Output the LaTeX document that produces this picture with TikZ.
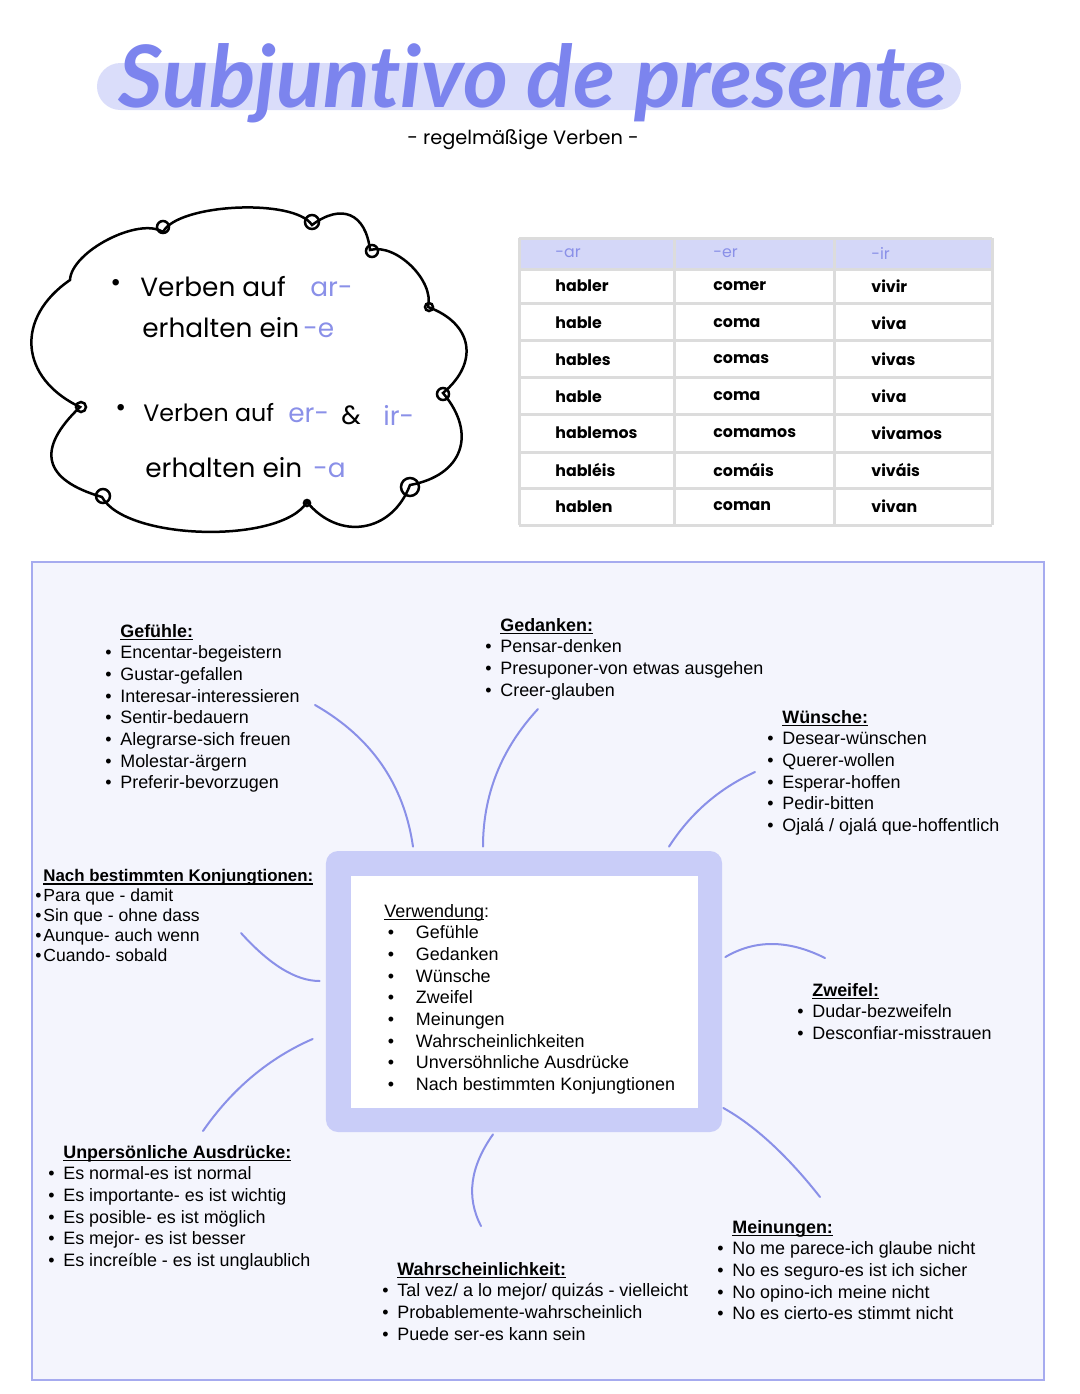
\documentclass[tikz,border=0pt]{standalone}
\usepackage{fontspec}
\setmainfont{Liberation Sans}
\newfontfamily\handschrift{Poppins}
\newfontfamily\titelschrift{Lato}[Ligatures=NoCommon]
\usetikzlibrary{calc}

\definecolor{lila}{HTML}{8A90E8}
\definecolor{lilabox}{HTML}{C9CDF8}
\definecolor{titelblau}{HTML}{7C84EE}
\definecolor{balkenfarbe}{HTML}{DADDFA}
\definecolor{feldfarbe}{HTML}{F4F5FD}
\definecolor{feldrand}{HTML}{A6ABEF}
\definecolor{kopffarbe}{HTML}{D4D7F8}
\definecolor{tabgrau}{HTML}{DCDCDC}

\tikzset{
  gruppe/.style={anchor=north west, inner sep=0pt, align=left, font=\fontsize{10.2}{12.3}\selectfont},
  ast/.style={draw=lila, line width=0.4mm, line cap=round},
  wolke/.style={draw=black, line width=0.5mm, line cap=round},
  hand/.style={anchor=west, inner sep=0pt, font=\handschrift\fontsize{15}{15}\selectfont},
  zelle/.style={anchor=west, inner sep=0pt, font=\handschrift\bfseries\fontsize{9}{9}\selectfont},
  gitter/.style={draw=tabgrau, line width=0.6mm},
}
\newsavebox{\unterbox}
\newcommand{\unter}[1]{\sbox{\unterbox}{#1}\rlap{\rule[-1.7pt]{\wd\unterbox}{0.7pt}}\usebox{\unterbox}}
\newcommand{\kopf}[1]{\textbf{\unter{#1}}}
\newcommand{\pkt}{\llap{\textbullet\hspace{5pt}}}

\begin{document}
\begin{tikzpicture}[x=0.2mm, y=-0.2mm]
\useasboundingbox (0,0) rectangle (1080,1394);

% title
\node[fill=balkenfarbe, rounded corners=4.7mm, minimum width=172.8mm, minimum height=9.4mm] (balken) at (529,86.5) {};
\node[text=titelblau, inner sep=0pt, font=\titelschrift\bfseries\itshape\fontsize{49}{49}\selectfont] (titel) at (533,83) {Subjuntivo de presente};
\node[inner sep=0pt, font=\handschrift\fontsize{11}{11}\selectfont] (untertitel) at (523,140) {- regelmäßige Verben -};

% cloud
\draw[wolke] (163,232) to[bend left=60, looseness=0.55] (312,225)
  to[bend left=60, looseness=1.5] (370,250)
  to[bend left=60, looseness=0.85] (428,307)
  to[bend left=60, looseness=1.4] (443,393)
  to[bend left=60, looseness=1.4] (410,485)
  to[bend left=60, looseness=1.25] (307,502)
  to[bend left=60, looseness=0.62] (102,497)
  to[bend left=60, looseness=1.7] (80,407)
  to[bend left=60, looseness=1.35] (70,280)
  to[bend left=60, looseness=0.7] (163,232);
\foreach \px/\py/\r in {163/227/6, 312/222/7, 372/251/6, 429/307/4, 443/394/6, 410/487/9, 307/503/3, 103/496/7, 81/407/5}
  \draw[wolke] (\px,\py) circle (\r);

\node[hand] (p1) at (110,285) {\textbullet};
\node[hand] (w1) at (140,287) {Verben auf};
\node[hand, text=lila] (w1a) at (310,289) {ar-};
\node[hand] (w2) at (142,328) {erhalten ein};
\node[hand, text=lila] (w2a) at (303,330) {-e};
\node[hand] (p2) at (115,410) {\textbullet};
\node[hand, font=\handschrift\fontsize{13.5}{13.5}\selectfont] (w3) at (143,413) {Verben auf};
\node[hand, text=lila] (w3a) at (288,415) {er-};
\node[hand] (w3b) at (341,415) {\&};
\node[hand, text=lila] (w3c) at (383,415) {ir-};
\node[hand] (w4) at (145,468) {erhalten ein};
\node[hand, text=lila] (w4a) at (313,470) {-a};

% table
\fill[kopffarbe] (519,238) rectangle (992,269);
\foreach \y in {238,269,303,340,377,414,452,488,525}
  \draw[gitter] (519,\y) -- (992,\y);
\foreach \x in {519,674,834,992}
  \draw[gitter] (\x,238) -- (\x,525);
\node[zelle, text=lila, font=\handschrift\fontsize{9}{9}\selectfont] (k1) at (555,253) {-ar};
\node[zelle, text=lila, font=\handschrift\fontsize{9}{9}\selectfont] (k2) at (713,253) {-er};
\node[zelle, text=lila, font=\handschrift\fontsize{9}{9}\selectfont] (k3) at (871,253) {-ir};
\foreach \a/\b/\c [count=\i] in {habler/comer/vivir, hable/coma/viva, hables/comas/vivas, hable/coma/viva, hablemos/comamos/vivamos, habléis/comáis/viváis, hablen/coman/vivan} {
  \pgfmathsetmacro{\zy}{249.25+36.75*\i}
  \node[zelle] (ar\i) at (555,\zy) {\a};
  \node[zelle] (er\i) at (713,\zy) {\b};
  \node[zelle] (ir\i) at (871,\zy) {\c};
}

% lower field
\node[draw=feldrand, fill=feldfarbe, line width=0.5mm, minimum width=202.4mm, minimum height=163.6mm] (feld) at (538,971) {};
\node[fill=lilabox, rounded corners=2.4mm, minimum width=79.2mm, minimum height=56.2mm] (mitte) at (524,991.5) {};
\node[fill=white, minimum width=69.4mm, minimum height=46.4mm] (innen) at (524.5,992) {};

\node[gruppe] (verwendung) at (384,904) {\unter{Verwendung}:\\
  \makebox[18pt][l]{\hspace{2pt}\textbullet}Gefühle\\
  \makebox[18pt][l]{\hspace{2pt}\textbullet}Gedanken\\
  \makebox[18pt][l]{\hspace{2pt}\textbullet}Wünsche\\
  \makebox[18pt][l]{\hspace{2pt}\textbullet}Zweifel\\
  \makebox[18pt][l]{\hspace{2pt}\textbullet}Meinungen\\
  \makebox[18pt][l]{\hspace{2pt}\textbullet}Wahrscheinlichkeiten\\
  \makebox[18pt][l]{\hspace{2pt}\textbullet}Unversöhnliche Ausdrücke\\
  \makebox[18pt][l]{\hspace{2pt}\textbullet}Nach bestimmten Konjungtionen};

\node[gruppe] (gefuehle) at (120,624) {\kopf{Gefühle:}\\ \pkt Encentar-begeistern\\ \pkt Gustar-gefallen\\
  \pkt Interesar-interessieren\\ \pkt Sentir-bedauern\\ \pkt Alegrarse-sich freuen\\ \pkt Molestar-ärgern\\ \pkt Preferir-bevorzugen};
\node[gruppe] (gedanken) at (500,618) {\kopf{Gedanken:}\\ \pkt Pensar-denken\\ \pkt Presuponer-von etwas ausgehen\\ \pkt Creer-glauben};
\node[gruppe] (wuensche) at (782,710) {\kopf{Wünsche:}\\ \pkt Desear-wünschen\\ \pkt Querer-wollen\\ \pkt Esperar-hoffen\\
  \pkt Pedir-bitten\\ \pkt Ojalá / ojalá que-hoffentlich};
\node[gruppe, font=\fontsize{10}{11.34}\selectfont] (konj) at (43,869) {{\fontsize{9.6}{11.34}\selectfont\kopf{Nach bestimmten Konjungtionen:}}\\
  \llap{\textbullet\hspace{1pt}}Para que - damit\\ \llap{\textbullet\hspace{1pt}}Sin que - ohne dass\\
  \llap{\textbullet\hspace{1pt}}Aunque- auch wenn\\ \llap{\textbullet\hspace{1pt}}Cuando- sobald};
\node[gruppe] (zweifel) at (812,983) {\kopf{Zweifel:}\\ \pkt Dudar-bezweifeln\\ \pkt Desconfiar-misstrauen};
\node[gruppe] (unpers) at (63,1145) {\kopf{Unpersönliche Ausdrücke:}\\ \pkt Es normal-es ist normal\\ \pkt Es importante- es ist wichtig\\
  \pkt Es posible- es ist möglich\\ \pkt Es mejor- es ist besser\\ \pkt Es increíble - es ist unglaublich};
\node[gruppe] (wahrsch) at (397,1262) {\kopf{Wahrscheinlichkeit:}\\ \pkt Tal vez/ a lo mejor/ quizás - vielleicht\\
  \pkt Probablemente-wahrscheinlich\\ \pkt Puede ser-es kann sein};
\node[gruppe] (meinung) at (732,1220) {\kopf{Meinungen:}\\ \pkt No me parece-ich glaube nicht\\ \pkt No es seguro-es ist ich sicher\\
  \pkt No opino-ich meine nicht\\ \pkt No es cierto-es stimmt nicht};

% branches to the middle box
\coordinate (c-gef) at (315,705);
\coordinate (c-ged) at (538,709);
\coordinate (c-wun) at (755,772);
\coordinate (c-konj) at (241,933);
\coordinate (c-unp) at (203,1131);
\coordinate (c-zwe) at (825,958);
\coordinate (c-mei) at (820,1197);
\coordinate (c-wah) at (481,1226);
\draw[ast] (c-gef) .. controls (371,737) and (404,784) .. ($(mitte.north)+(-111,-4)$);
\draw[ast] (c-ged) .. controls (501,749) and (483,795) .. ($(mitte.north)+(-41,-4)$);
\draw[ast] (c-wun) .. controls (718,789) and (690,814) .. ($(mitte.north)+(145,-4)$);
\draw[ast] (c-konj) .. controls (270,965) and (296,981) .. ($(mitte.west)+(-6,-10.5)$);
\draw[ast] ($(mitte.west)+(-13,47.5)$) .. controls (269,1058) and (232,1089) .. (c-unp);
\draw[ast] ($(mitte.east)+(3,-34.5)$) .. controls (756,939) and (789,940) .. (c-zwe);
\draw[ast] ($(mitte.east)+(1,116.5)$) .. controls (754,1125) and (787,1155) .. (c-mei);
\draw[ast] ($(mitte.south)+(-31,2)$) .. controls (470,1167) and (466,1197) .. (c-wah);
\end{tikzpicture}
\end{document}
